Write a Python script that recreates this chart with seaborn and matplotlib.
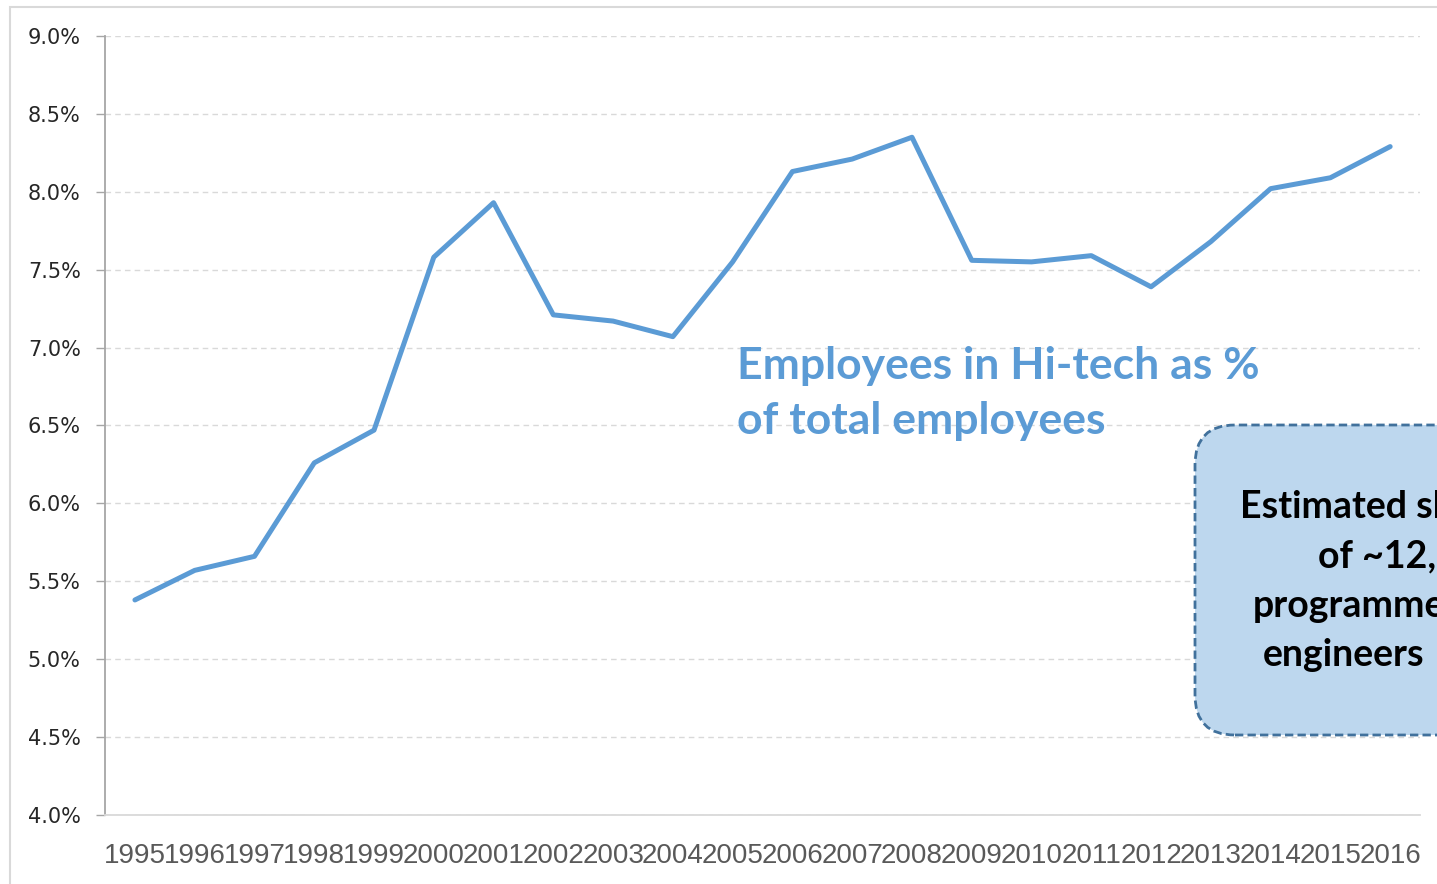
import matplotlib
matplotlib.use("Agg")
import matplotlib.pyplot as plt
import seaborn as sns
import pandas as pd
from matplotlib.patches import FancyBboxPatch, Rectangle
from matplotlib.ticker import FuncFormatter

# values (share of hi-tech employees, %)
years = [str(y) for y in range(1995, 2017)]
share = [5.38, 5.57, 5.66, 6.26, 6.47, 7.58, 7.93, 7.21, 7.17, 7.07, 7.55,
         8.13, 8.21, 8.35, 7.56, 7.55, 7.59, 7.39, 7.68, 8.02, 8.09, 8.29]
yticks = [4.0, 4.5, 5.0, 5.5, 6.0, 6.5, 7.0, 7.5, 8.0, 8.5, 9.0]

label_text = "Employees in Hi-tech as %\nof total employees"
box_lines = ["Estimated shortage", "of ~12,000", "programmers", "engineers"]
box_line_x = [12.40, 13.18, 12.53, 12.63]  # left edges, inches

df = pd.DataFrame({"year": years, "share": share})

sns.set_theme(style="white")
plt.rcParams["font.family"] = ["DejaVu Sans"]

fig = plt.figure(figsize=(14.37, 8.84), dpi=100)
ax = fig.add_axes([0.0731, 0.0781, 0.9151, 0.8812])

# outer chart border
fig.add_artist(Rectangle((0.10, -1), 20, 8.84 - 0.07 + 1, transform=fig.dpi_scale_trans,
                         fill=False, edgecolor="#d9d9d9", linewidth=1.5))

sns.lineplot(data=df, x="year", y="share", ax=ax, color="#5b9bd5",
             linewidth=3.6, solid_capstyle="round", solid_joinstyle="round")

ax.set_xlim(-0.5, len(years) - 0.5)
ax.set_ylim(4.0, 9.0)
ax.set_yticks(yticks)
ax.yaxis.set_major_formatter(FuncFormatter(lambda v, p: f"{v:.1f}%"))
ax.set_xlabel("")
ax.set_ylabel("")

ax.grid(axis="y", color="#d9d9d9", linestyle=(0, (4, 3)), linewidth=1)
ax.grid(axis="x", visible=False)
for side in ["top", "right"]:
    ax.spines[side].set_visible(False)
ax.spines["left"].set_color("#a6a6a6")
ax.spines["left"].set_linewidth(1.3)
ax.spines["bottom"].set_color("#d9d9d9")
ax.spines["bottom"].set_linewidth(1.3)

ax.tick_params(axis="y", left=True, length=6.5, width=1, color="#a6a6a6",
               pad=11, labelsize=15, labelcolor="#262626")
ax.tick_params(axis="x", bottom=False, length=0, pad=20, labelsize=20,
               labelcolor="#595959")
for t in ax.get_xticklabels():
    t.set_fontfamily("Liberation Sans")

# series annotation
fig.text(7.37, 8.84 - 3.46, label_text, transform=fig.dpi_scale_trans,
         fontsize=32, fontweight="bold", color="#5b9bd5", family="Lato",
         ha="left", va="top", linespacing=1.45)

# callout box, running past the right edge
box = FancyBboxPatch((11.95, 8.84 - 7.35), 4.0, 3.10,
                     boxstyle="round,pad=0,rounding_size=0.4",
                     transform=fig.dpi_scale_trans, facecolor="#bdd7ee",
                     edgecolor="#41719c", linewidth=2, linestyle=(0, (3, 1.5)))
fig.add_artist(box)
for i, (line, x0) in enumerate(zip(box_lines, box_line_x)):
    fig.text(x0, 8.84 - 5.18 - i * 0.495, line, transform=fig.dpi_scale_trans,
             fontsize=27, fontweight="bold", color="black", family="Lato",
             ha="left", va="baseline")

fig.savefig("out.png", dpi=100)
